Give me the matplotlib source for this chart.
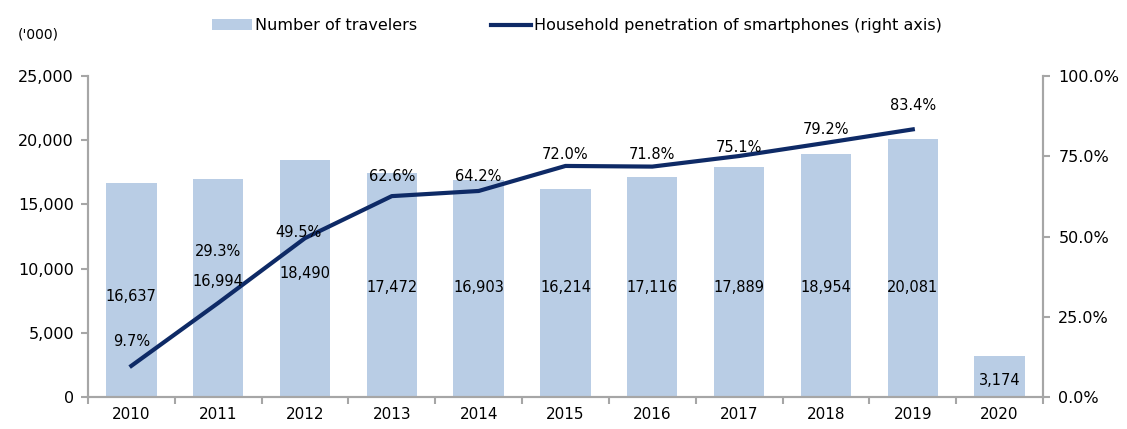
import matplotlib
matplotlib.use("Agg")
import matplotlib.pyplot as plt
from matplotlib.ticker import FuncFormatter, FixedLocator
from matplotlib.patches import Patch
from matplotlib.lines import Line2D

years = ["2010", "2011", "2012", "2013", "2014", "2015", "2016", "2017", "2018", "2019", "2020"]
travelers = [16637, 16994, 18490, 17472, 16903, 16214, 17116, 17889, 18954, 20081, 3174]
penetration = [9.7, 29.3, 49.5, 62.6, 64.2, 72.0, 71.8, 75.1, 79.2, 83.4]

bar_color = "#B9CDE5"
line_color = "#0E2A66"
spine_color = "#A6A6A6"

plt.rcParams['font.family'] = ['DejaVu Sans']
fig = plt.figure(figsize=(11.27, 4.29), dpi=100)
ax = fig.add_axes([0.078, 0.0746, 0.8475, 0.748])
ax2 = ax.twinx()

x = list(range(len(years)))
ax.bar(x, travelers, width=0.58, color=bar_color, zorder=1)
ax.set_xlim(-0.5, len(years) - 0.5)
ax.set_ylim(0, 25000)
ax.set_yticks(range(0, 25001, 5000))
ax.yaxis.set_major_formatter(FuncFormatter(lambda v, p: f"{int(v):,}"))

ax.set_xticks(x)
ax.set_xticklabels(years)
ax.xaxis.set_minor_locator(FixedLocator([i + 0.5 for i in range(-1, len(years))]))
ax.tick_params(axis='x', which='major', length=0, pad=7, labelsize=11)
ax.tick_params(axis='x', which='minor', length=5, color=spine_color, width=1.5)
ax.tick_params(axis='y', length=5, color=spine_color, width=1.5, labelsize=11.5, pad=5)

ax2.set_ylim(0, 100)
ax2.set_yticks([0, 25, 50, 75, 100])
ax2.yaxis.set_major_formatter(FuncFormatter(lambda v, p: f"{v:.1f}%"))
ax2.tick_params(axis='y', length=5, color=spine_color, width=1.5, labelsize=11.5, pad=6)
ax2.plot(x[:len(penetration)], penetration, color=line_color, lw=3, zorder=3)

for a in (ax, ax2):
    a.spines['top'].set_visible(False)
    for s in ('left', 'right', 'bottom'):
        a.spines[s].set_color(spine_color)
        a.spines[s].set_linewidth(1.5)
ax.set_zorder(ax2.get_zorder() - 1)
ax.patch.set_visible(False)

# bar value labels (y in data units of left axis)
bar_label_y = [7800, 9000, 9600, 8500, 8500, 8500, 8500, 8500, 8500, 8500, 1250]
for i, v in enumerate(travelers):
    ax2.text(i, bar_label_y[i] / 250, f"{v:,}", ha='center', va='center', fontsize=10.5, zorder=5)

# percentage labels offsets (points)
pct_offsets = [(0, 12), (0, 32), (-5, -1), (0, 9), (0, 5), (0, 3), (0, 3), (0, 1), (0, 4), (0, 12)]
for i, v in enumerate(penetration):
    ax2.annotate(f"{v:.1f}%", (i, v), xytext=pct_offsets[i], textcoords='offset points',
                 ha='center', va='bottom', fontsize=10.5, zorder=5)

fig.text(0.016, 0.92, "('000)", fontsize=10, ha='left', va='center')

handles = [Patch(facecolor=bar_color, edgecolor='none'),
           Line2D([0], [0], color=line_color, lw=3)]
fig.legend(handles, ["Number of travelers", "Household penetration of smartphones (right axis)"],
           loc='center', bbox_to_anchor=(0.512, 0.94), ncol=2, frameon=False, fontsize=11.5,
           handlelength=2.5, handletextpad=0.2, columnspacing=4.6)

fig.savefig("out.png", dpi=100)
